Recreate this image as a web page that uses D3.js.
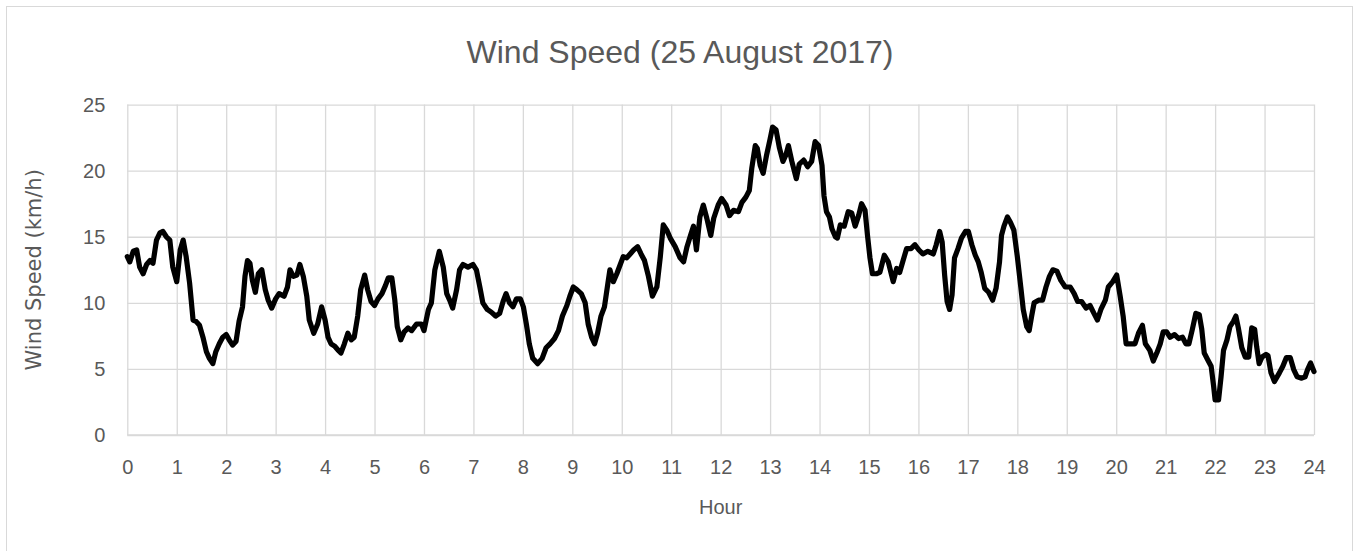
<!DOCTYPE html>
<html>
<head>
<meta charset="utf-8">
<script src="https://cdn.jsdelivr.net/npm/d3@7"></script>
<style>
  html, body { margin: 0; padding: 0; background: #fff; }
  svg { display: block; }
  .tick text { fill: #595959; }
</style>
</head>
<body>
<div class="plot-container"></div>
<script>
// *************************************
// DATA
// *************************************

const hours = [
  0, 0.05, 0.12, 0.19, 0.25, 0.32, 0.39, 0.46, 0.52, 0.59, 0.66, 0.72, 0.79, 0.86, 0.92, 1.0,
  1.07, 1.13, 1.19, 1.26, 1.33, 1.39, 1.46, 1.53, 1.6, 1.66, 1.73, 1.79, 1.86, 1.93, 2.0,
  2.06, 2.13, 2.2, 2.26, 2.33, 2.38, 2.43, 2.48, 2.53, 2.59, 2.65, 2.72, 2.79, 2.85, 2.92,
  3.0, 3.07, 3.17, 3.24, 3.29, 3.36, 3.43, 3.49, 3.56, 3.63, 3.68, 3.77, 3.85, 3.93, 4.0,
  4.06, 4.12, 4.2, 4.27, 4.32, 4.39, 4.46, 4.53, 4.59, 4.66, 4.72, 4.8, 4.86, 4.93, 5.0,
  5.07, 5.15, 5.22, 5.28, 5.35, 5.41, 5.46, 5.53, 5.6, 5.68, 5.75, 5.85, 5.95,
  6.0, 6.09, 6.15, 6.22, 6.31, 6.39, 6.46, 6.52, 6.58, 6.66, 6.72, 6.79, 6.89, 6.99,
  7.06, 7.13, 7.19, 7.28, 7.36, 7.45, 7.53, 7.6, 7.66, 7.73, 7.8, 7.87, 7.95,
  8.01, 8.07, 8.13, 8.2, 8.3, 8.39, 8.47, 8.55, 8.64, 8.72, 8.8, 8.89, 8.95,
  9.02, 9.09, 9.18, 9.26, 9.32, 9.39, 9.45, 9.51, 9.58, 9.65, 9.72, 9.76, 9.83, 9.9, 9.97,
  10.03, 10.1, 10.17, 10.24, 10.32, 10.39, 10.46, 10.54, 10.62, 10.71, 10.78, 10.84, 10.91, 10.98,
  11.08, 11.18, 11.25, 11.32, 11.39, 11.45, 11.51, 11.58, 11.65, 11.72, 11.8, 11.86, 11.95,
  12.02, 12.11, 12.18, 12.26, 12.36, 12.43, 12.51, 12.58, 12.63, 12.7, 12.74, 12.8, 12.86, 12.93,
  13.0, 13.05, 13.12, 13.19, 13.26, 13.32, 13.37, 13.44, 13.53, 13.59, 13.68, 13.76, 13.84, 13.91, 13.98,
  14.05, 14.09, 14.14, 14.2, 14.25, 14.32, 14.36, 14.42, 14.5, 14.58, 14.65, 14.72, 14.79, 14.85, 14.92, 14.97,
  15.02, 15.07, 15.15, 15.22, 15.31, 15.39, 15.49, 15.56, 15.62, 15.69, 15.76, 15.85, 15.93,
  16.01, 16.09, 16.19, 16.3, 16.36, 16.43, 16.48, 16.53, 16.58, 16.63, 16.68, 16.73, 16.8, 16.87, 16.95,
  17.01, 17.08, 17.15, 17.21, 17.27, 17.34, 17.42, 17.5, 17.57, 17.64, 17.68, 17.73, 17.8, 17.86, 17.93,
  18.0, 18.07, 18.12, 18.19, 18.24, 18.29, 18.34, 18.43, 18.51, 18.58, 18.65, 18.72, 18.8, 18.88, 18.97,
  19.07, 19.15, 19.22, 19.3, 19.39, 19.47, 19.55, 19.62, 19.69, 19.78, 19.84, 19.93,
  20.01, 20.08, 20.14, 20.2, 20.28, 20.38, 20.45, 20.53, 20.59, 20.68, 20.75, 20.82, 20.89, 20.95,
  21.02, 21.09, 21.18, 21.26, 21.34, 21.41, 21.47, 21.54, 21.61, 21.68, 21.73, 21.78, 21.85, 21.92, 21.97,
  22.0, 22.07, 22.12, 22.17, 22.24, 22.3, 22.37, 22.42, 22.47, 22.54, 22.61, 22.68, 22.74, 22.8, 22.84, 22.89, 22.95,
  23.03, 23.07, 23.13, 23.2, 23.3, 23.37, 23.44, 23.52, 23.59, 23.66, 23.75, 23.82, 23.87, 23.93, 24.0
];

const speeds = [
  13.5, 13.1, 13.9, 14.0, 12.7, 12.2, 12.9, 13.2, 13.0, 14.75, 15.3, 15.4, 15.0, 14.75, 12.7, 11.6,
  14.0, 14.75, 13.5, 11.5, 8.7, 8.6, 8.3, 7.4, 6.3, 5.8, 5.4, 6.3, 6.9, 7.4, 7.6,
  7.2, 6.8, 7.1, 8.6, 9.7, 12.0, 13.2, 13.0, 11.7, 10.8, 12.2, 12.5, 11.0, 10.2, 9.6,
  10.3, 10.7, 10.5, 11.2, 12.5, 12.0, 12.1, 12.9, 12.0, 10.5, 8.7, 7.7, 8.4, 9.7, 8.7,
  7.4, 6.9, 6.7, 6.4, 6.2, 6.9, 7.7, 7.2, 7.4, 9.0, 11.0, 12.1, 11.0, 10.1, 9.8,
  10.3, 10.7, 11.3, 11.9, 11.9, 10.2, 8.2, 7.2, 7.8, 8.1, 7.9, 8.4, 8.4,
  7.9, 9.5, 10.0, 12.5, 13.9, 12.7, 10.7, 10.2, 9.6, 11.0, 12.5, 12.9, 12.7, 12.9,
  12.5, 11.2, 10.0, 9.5, 9.3, 9.0, 9.2, 10.1, 10.7, 10.0, 9.7, 10.3, 10.3,
  9.7, 8.4, 6.9, 5.8, 5.4, 5.8, 6.6, 6.9, 7.3, 7.9, 9.0, 9.8, 10.5,
  11.2, 11.0, 10.7, 10.0, 8.4, 7.4, 6.9, 7.7, 9.0, 9.7, 11.5, 12.5, 11.6, 12.2, 12.9,
  13.5, 13.4, 13.7, 14.0, 14.25, 13.7, 13.2, 12.0, 10.5, 11.2, 13.5, 15.9, 15.5, 14.9,
  14.25, 13.4, 13.1, 14.25, 15.1, 15.8, 14.0, 16.5, 17.4, 16.4, 15.1, 16.4, 17.4,
  17.9, 17.4, 16.6, 17.0, 16.9, 17.6, 18.0, 18.5, 20.2, 21.9, 21.7, 20.4, 19.8, 21.2,
  22.4, 23.3, 23.1, 21.7, 20.7, 21.2, 21.9, 20.7, 19.4, 20.5, 20.8, 20.3, 20.7, 22.2, 21.9,
  20.4, 18.1, 16.9, 16.5, 15.6, 15.0, 14.9, 15.9, 15.8, 16.9, 16.8, 15.8, 16.6, 17.5, 17.0, 15.1,
  13.4, 12.2, 12.2, 12.3, 13.6, 13.1, 11.6, 12.6, 12.3, 13.2, 14.1, 14.1, 14.4,
  14.0, 13.7, 13.9, 13.7, 14.4, 15.4, 14.6, 12.1, 10.1, 9.5, 10.6, 13.4, 14.1, 14.9, 15.4,
  15.4, 14.4, 13.6, 13.1, 12.3, 11.1, 10.8, 10.2, 11.1, 13.1, 15.1, 15.8, 16.5, 16.1, 15.5,
  13.5, 11.2, 9.5, 8.2, 7.9, 9.0, 10.0, 10.2, 10.2, 11.2, 12.0, 12.5, 12.4, 11.7, 11.2,
  11.2, 10.7, 10.1, 10.1, 9.6, 9.8, 9.2, 8.7, 9.5, 10.2, 11.2, 11.6,
  12.1, 10.5, 9.0, 6.9, 6.9, 6.9, 7.7, 8.3, 6.9, 6.4, 5.6, 6.2, 6.9, 7.8,
  7.8, 7.4, 7.6, 7.3, 7.4, 6.9, 6.9, 8.0, 9.2, 9.1, 8.0, 6.2, 5.7, 5.2, 3.7,
  2.65, 2.65, 4.4, 6.4, 7.2, 8.2, 8.6, 9.0, 8.1, 6.6, 5.9, 5.9, 8.1, 8.0, 6.7, 5.4, 5.9,
  6.1, 6.0, 4.7, 4.05, 4.7, 5.2, 5.85, 5.85, 4.95, 4.4, 4.3, 4.4, 4.95, 5.45, 4.8
];

const xTicks = d3.range(0, 25, 1);
const yTicks = [0, 5, 10, 15, 20, 25];

const titleText = "Wind Speed (25 August 2017)";
const xLabel = "Hour";
const yLabel = "Wind Speed (km/h)";

// *************************************
// LAYOUT
// *************************************

const W = 1355, H = 551;
const plot = { left: 127.3, right: 1314, top: 104.6, bottom: 435 };
const gridColor = "#d9d9d9";
const textColor = "#595959";
const tickFont = "'Liberation Sans', Arial, sans-serif";

const svg = d3.select("div.plot-container")
  .append("svg")
  .attr("width", W)
  .attr("height", H);

// outer chart border
svg.append("rect")
   .attr("x", 6.5).attr("y", 6.5)
   .attr("width", 1346).attr("height", H)
   .attr("fill", "#fff")
   .attr("stroke", gridColor)
   .attr("stroke-width", 1);

const x = d3.scaleLinear().domain([0, 24]).range([plot.left, plot.right]);
const y = d3.scaleLinear().domain([0, 25]).range([plot.bottom, plot.top]);

// *************************************
// GRID AND AXES
// *************************************

let xAxis = svg.append("g")
  .attr("transform", `translate(0, ${plot.bottom})`)
  .call(d3.axisBottom(x)
          .tickValues(xTicks)
          .tickSize(-(plot.bottom - plot.top))
          .tickPadding(25)
          .tickFormat(d3.format("d")));

let yAxis = svg.append("g")
  .attr("transform", `translate(${plot.left}, 0)`)
  .call(d3.axisLeft(y)
          .tickValues(yTicks)
          .tickSize(-(plot.right - plot.left))
          .tickPadding(22)
          .tickFormat(d3.format("d")));

[xAxis, yAxis].forEach((g) => {
  g.select(".domain").remove();
  g.selectAll(".tick line")
   .attr("stroke", gridColor)
   .attr("stroke-width", 1.3);
  g.selectAll(".tick text")
   .style("font-family", tickFont)
   .style("font-size", "20px");
});

// bottom axis line a touch heavier, like the reference
svg.append("line")
   .attr("x1", plot.left).attr("x2", plot.right)
   .attr("y1", y(0)).attr("y2", y(0))
   .attr("stroke", gridColor)
   .attr("stroke-width", 1.6);

// *************************************
// THE SERIES
// *************************************

const points = hours.map((h, i) => ({ h: h, v: speeds[i] }));

const line = d3.line()
  .x((d) => x(d.h))
  .y((d) => y(d.v));

svg.append("path")
   .datum(points)
   .attr("d", line)
   .attr("fill", "none")
   .attr("stroke", "#000")
   .attr("stroke-width", 5.2)
   .attr("stroke-linejoin", "round")
   .attr("stroke-linecap", "round");

// *************************************
// TITLES
// *************************************

svg.append("text")
   .attr("x", 680).attr("y", 63)
   .attr("text-anchor", "middle")
   .style("font-family", tickFont)
   .style("font-size", "32px")
   .attr("fill", textColor)
   .text(titleText);

svg.append("text")
   .attr("x", (plot.left + plot.right) / 2).attr("y", 514)
   .attr("text-anchor", "middle")
   .style("font-family", tickFont)
   .style("font-size", "20px")
   .attr("fill", textColor)
   .text(xLabel);

svg.append("text")
   .attr("transform", `translate(41, ${(plot.top + plot.bottom) / 2}) rotate(-90)`)
   .attr("text-anchor", "middle")
   .style("font-family", "'DejaVu Sans', Verdana, sans-serif")
   .style("font-size", "21px")
   .attr("fill", textColor)
   .text(yLabel);
</script>
</body>
</html>
